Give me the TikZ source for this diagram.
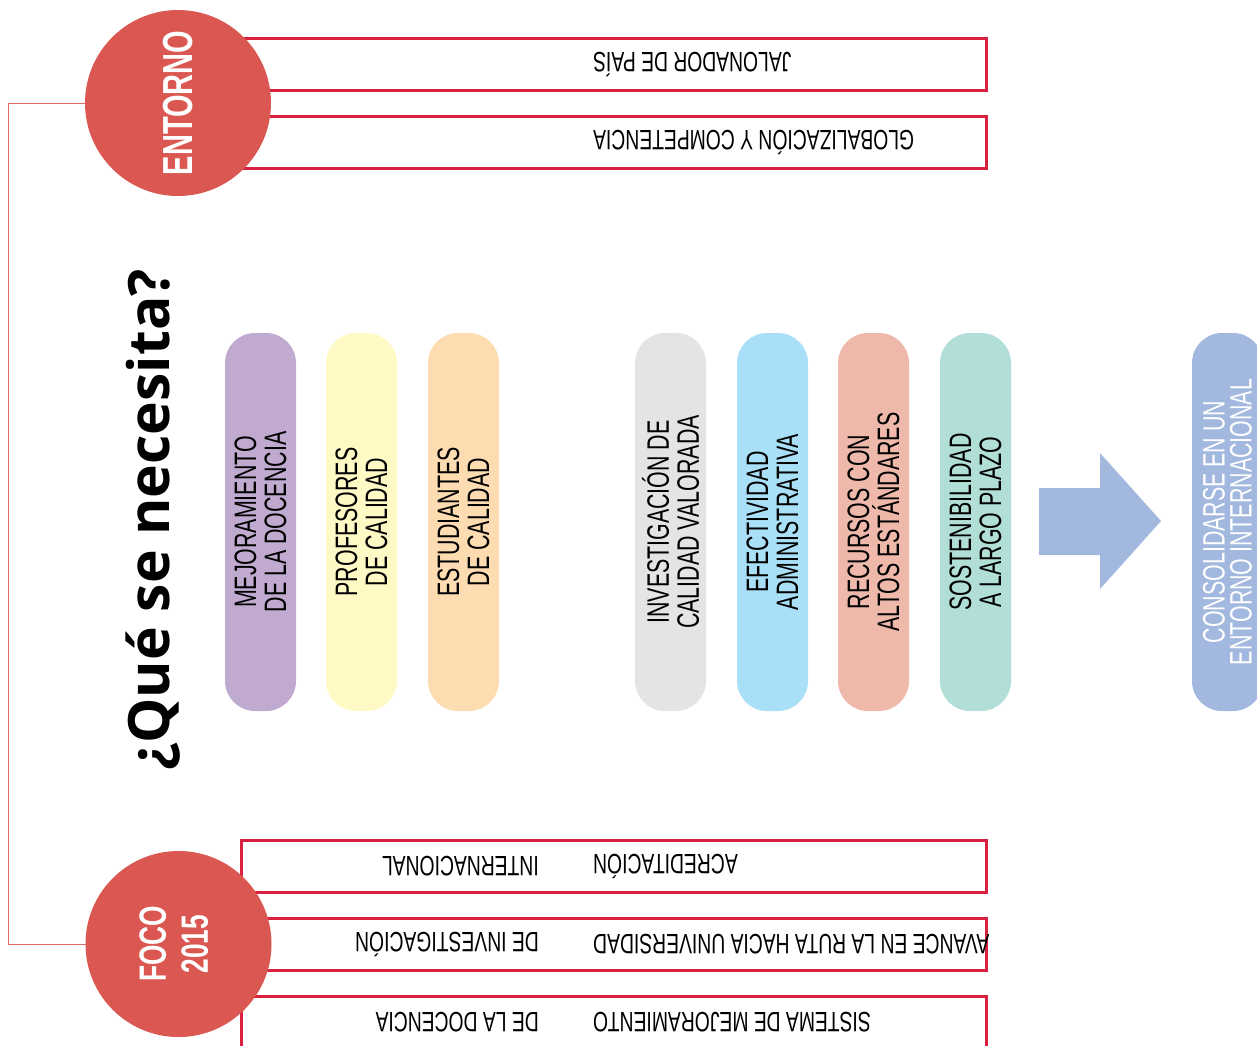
\documentclass[tikz,border=0pt]{standalone}
\usepackage{fontspec}
\setmainfont{Liberation Sans}
\newfontfamily\condfont[FakeStretch=0.69]{Liberation Sans}
\newfontfamily\titlefont{Open Sans}
\usetikzlibrary{positioning}
\definecolor{circred}{HTML}{DB5751}
\definecolor{linered}{HTML}{D8213F}
\definecolor{connred}{HTML}{E06A66}
\definecolor{pillpurple}{HTML}{C0AACF}
\definecolor{pillyellow}{HTML}{FFF9C6}
\definecolor{pillpeach}{HTML}{FDDCB2}
\definecolor{pillgray}{HTML}{E3E4E6}
\definecolor{pillsky}{HTML}{A9E0F8}
\definecolor{pillsalmon}{HTML}{EEB9AB}
\definecolor{pillmint}{HTML}{B1DFD7}
\definecolor{goalblue}{HTML}{A2B8DE}

\begin{document}
\begin{tikzpicture}[
    x=1pt, y=-1pt,
    redbox/.style={draw=linered, line width=3pt, minimum width=745pt, minimum height=52pt, inner sep=0pt},
    boxtext/.style={font=\condfont\fontsize{28}{30}\selectfont, rotate=180, anchor=east, inner sep=0pt},
    boxtextend/.style={boxtext, anchor=west},
    bigdisc/.style={circle, fill=circred, minimum size=186pt, inner sep=0pt, text=white,
        font=\condfont\bfseries},
    pill/.style={rounded corners=30pt, minimum width=378pt, minimum height=71pt, rotate=90,
        align=center, inner sep=0pt, font=\condfont\fontsize{31}{30}\selectfont},
    conn/.style={draw=connred, line width=1pt}
]
\useasboundingbox (0,0) rectangle (1257,1045);
\clip (0,0) rectangle (1257,1045);

% =============================
% 0. Entorno
% =============================
\node[redbox] (jal) at (613.5,64) {};
\node[redbox] (glob) at (613.5,142) {};
\node[boxtext] (jaltext) at (593,64) {JALONADOR DE PAÍS};
\node[boxtext] (globtext) at (593,142) {GLOBALIZACIÓN Y COMPETENCIA};

% =============================
% 1. Foco 2015
% =============================
\node[redbox] (acre) at (613.5,866.5) {};
\node[redbox] (avan) at (613.5,944) {};
\node[redbox] (sist) at (613.5,1022) {};
\node[boxtext] (acre1) at (593,866.5) {ACREDITACIÓN};
\node[boxtextend] (acre2) at (539,866.5) {INTERNACIONAL};
\node[boxtext] (avan1) at (593,944) {AVANCE EN LA RUTA HACIA UNIVERSIDAD};
\node[boxtextend] (avan2) at (539,944) {DE INVESTIGACIÓN};
\node[boxtext] (sist1) at (593,1022) {SISTEMA DE MEJORAMIENTO};
\node[boxtextend] (sist2) at (539,1022) {DE LA DOCENCIA};

% circles on top of the box ends
\coordinate (entorno) at (178,103);
\coordinate (foco) at (178.5,944);
\draw[conn] (85,103) coordinate (e0) -- ++(-77,0) |- (85.5,944);
\node[bigdisc] (entornodisc) at (entorno) {\rotatebox{90}{\fontsize{42}{44}\selectfont ENTORNO}};
\node[bigdisc] (focodisc) at (foco) {\rotatebox{90}{\fontsize{38}{42}\selectfont
    \begin{tabular}{@{}c@{}}FOCO\\2015\end{tabular}}};

% =============================
% 2. Title and pills
% =============================
\node[rotate=90, inner sep=0pt, font=\titlefont\bfseries\fontsize{57}{57}\selectfont] (title) at (153,520) {¿Qué se necesita?};

\node[pill, fill=pillpurple] (p1) at (260.5,522) {MEJORAMIENTO\\DE LA DOCENCIA};
\node[pill, fill=pillyellow] (p2) at (361.5,522) {PROFESORES\\DE CALIDAD};
\node[pill, fill=pillpeach] (p3) at (463.5,522) {ESTUDIANTES\\DE CALIDAD};
\node[pill, fill=pillgray] (p4) at (670.5,522) {INVESTIGACIÓN DE\\CALIDAD VALORADA};
\node[pill, fill=pillsky] (p5) at (772.5,522) {EFECTIVIDAD\\ADMINISTRATIVA};
\node[pill, fill=pillsalmon] (p6) at (873.5,522) {RECURSOS CON\\ALTOS ESTÁNDARES};
\node[pill, fill=pillmint] (p7) at (975.5,522) {SOSTENIBILIDAD\\A LARGO PLAZO};

% block arrow to the goal
\fill[goalblue] (1039,488) -- (1100,488) -- (1100,453) -- (1161,521) -- (1100,589) -- (1100,555) -- (1039,555) -- cycle;
\node[pill, fill=goalblue, text=white, font=\condfont\fontsize{31}{27}\selectfont] (goal) at (1227.5,522) {CONSOLIDARSE EN UN\\ENTORNO INTERNACIONAL};
\end{tikzpicture}
\end{document}
